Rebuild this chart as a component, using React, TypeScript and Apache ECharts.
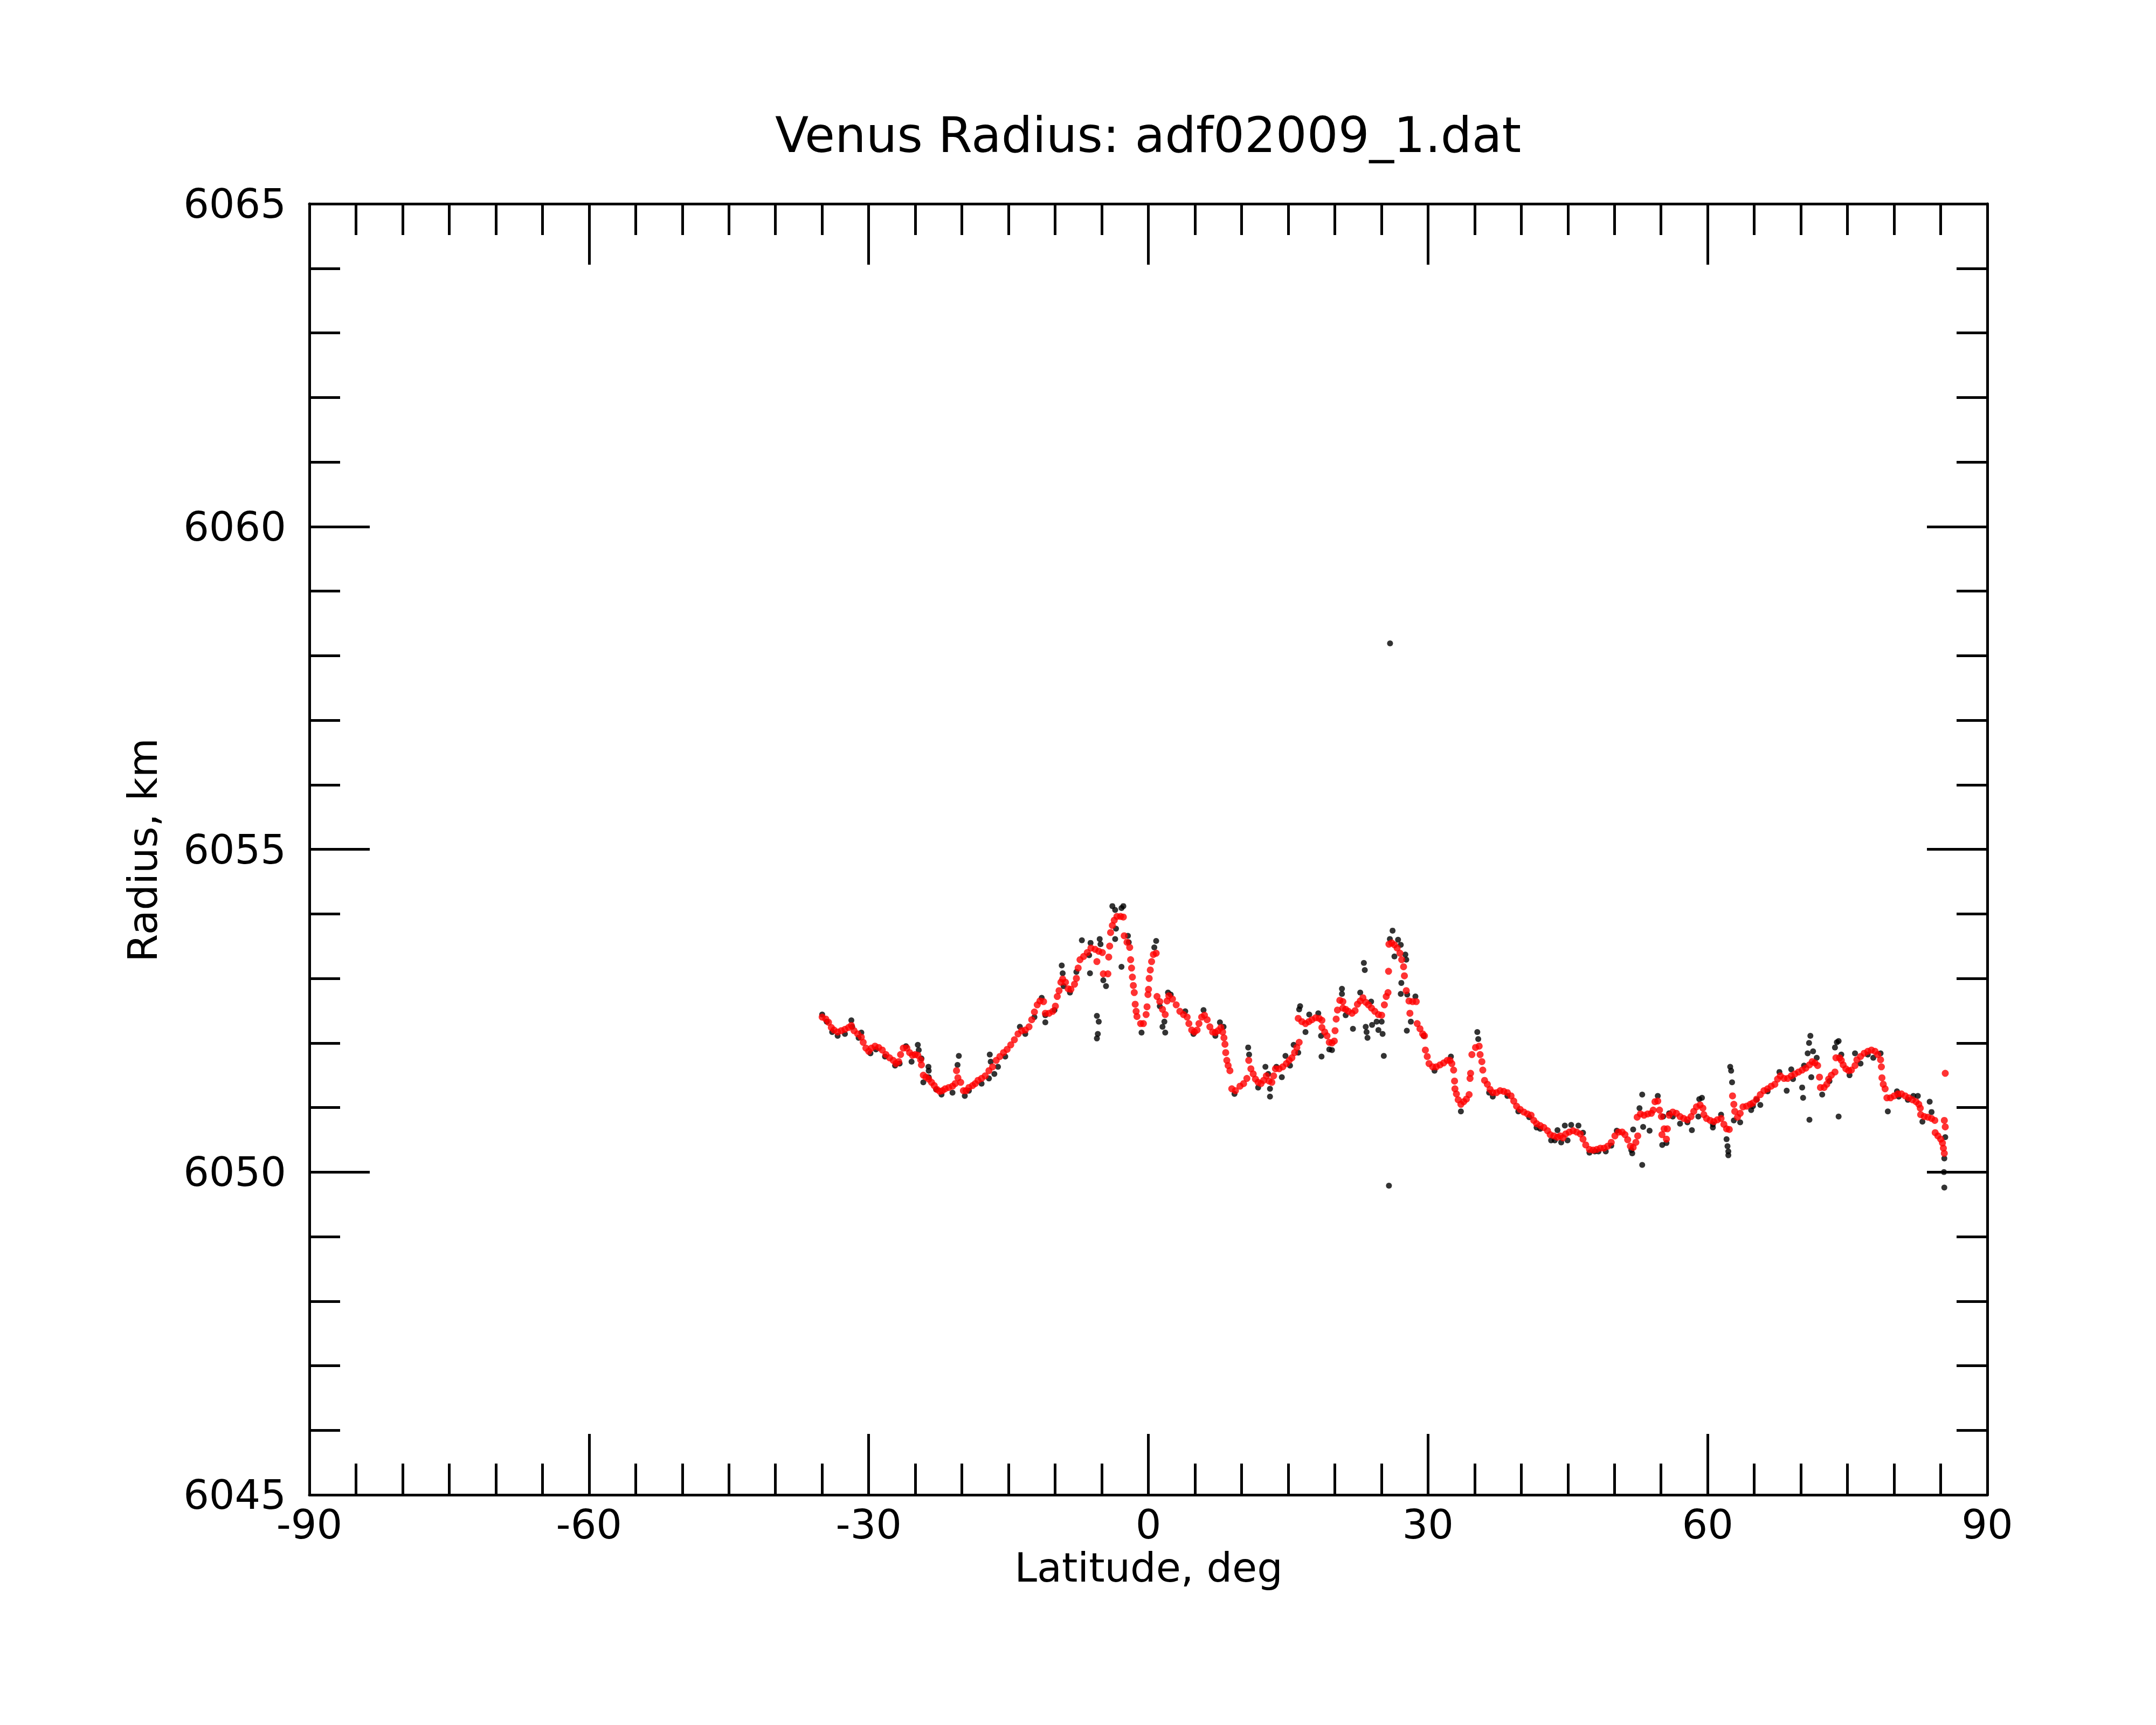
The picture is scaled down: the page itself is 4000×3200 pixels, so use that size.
import React, { useEffect, useRef } from 'react';
import * as echarts from 'echarts';

const FONT = 'DejaVu Sans';
const TITLE = 'Venus Radius: adf02009_1.dat';
const X_NAME = 'Latitude, deg';
const Y_NAME = 'Radius, km';

// Filtered (red) samples: [latitude deg, radius km]
const redSouth: number[][] = [
  [-34.99,6052.40],[-34.60,6052.37],[-34.31,6052.32],[-34.01,6052.24],[-33.72,6052.20],[-33.33,6052.17],[-32.94,6052.19],[-32.55,6052.21],[-32.16,6052.24],[-31.86,6052.27],[-31.57,6052.19],[-31.18,6052.14],[-30.79,6052.09],[-30.59,6052.01],[-30.30,6051.92],[-30.00,6051.87],[-29.71,6051.92],[-29.32,6051.95],[-28.93,6051.93],[-28.54,6051.89],[-28.15,6051.82],[-27.76,6051.77],[-27.37,6051.73],[-27.07,6051.68],[-26.78,6051.71],[-26.58,6051.82],[-26.29,6051.92],[-25.90,6051.92],[-25.61,6051.85],[-25.31,6051.81],[-25.02,6051.82],[-24.73,6051.81],[-24.43,6051.74],[-24.34,6051.66],[-24.14,6051.50],[-23.85,6051.47],[-23.56,6051.44],[-23.26,6051.39],[-22.97,6051.34],[-22.68,6051.28],[-22.38,6051.25],[-22.09,6051.26],[-21.80,6051.29],[-21.41,6051.31],[-21.01,6051.33],[-20.72,6051.37],[-20.58,6051.57],[-20.43,6051.46],[-20.13,6051.39],[-19.84,6051.26],[-19.55,6051.26],[-19.25,6051.31],[-18.86,6051.34],[-18.57,6051.37],[-18.28,6051.42],[-17.89,6051.45],[-17.50,6051.49],[-17.10,6051.57],[-16.71,6051.63],[-16.32,6051.73],[-15.93,6051.79],[-15.54,6051.85],[-15.15,6051.90],[-14.76,6051.97],[-14.37,6052.05],[-13.98,6052.14],[-13.59,6052.19],[-13.20,6052.20],[-12.80,6052.25],[-12.51,6052.36],[-12.22,6052.48],[-11.92,6052.59],[-11.63,6052.65],[-11.24,6052.64],[-11.05,6052.46],[-10.65,6052.46],[-10.26,6052.49],[-9.97,6052.57],[-9.77,6052.72],[-9.58,6052.81],[-9.38,6052.94],[-9.19,6052.99],[-8.89,6052.94],[-8.60,6052.84],[-8.31,6052.83],[-7.92,6052.91],[-7.72,6053.00],[-7.53,6053.16],[-7.33,6053.29],[-6.94,6053.34],[-6.55,6053.40],[-6.16,6053.47]
];
const redEquator: number[][] = [
  [-5.71,6053.45],[-5.52,6053.26],[-5.32,6053.42],[-4.93,6053.40],[-4.83,6053.07],[-4.34,6053.07],[-4.25,6053.33],[-4.15,6053.50],[-4.05,6053.71],[-3.86,6053.82],[-3.66,6053.90],[-3.37,6053.96],[-2.98,6053.96],[-2.68,6053.95],[-2.59,6053.66],[-2.29,6053.56],[-2.00,6053.48],[-1.90,6053.29],[-1.80,6053.16],[-1.71,6053.02],[-1.61,6052.89],[-1.51,6052.78],[-1.41,6052.60],[-1.31,6052.49],[-1.22,6052.41],[-0.83,6052.30],[-0.53,6052.30],[-0.24,6052.44],[-0.14,6052.56],[-0.04,6052.75],[0.02,6052.83],[0.09,6053.00],[0.21,6053.13],[0.35,6053.26],[0.54,6053.37],[0.84,6053.39],[0.93,6052.72],[1.23,6052.64],[1.52,6052.52],[1.81,6052.44],[2.01,6052.65],[2.20,6052.73],[2.59,6052.68],[2.99,6052.59],[3.38,6052.49],[3.77,6052.44],[4.16,6052.40],[4.35,6052.30],[4.65,6052.20],[4.94,6052.17],[5.23,6052.20],[5.43,6052.30],[5.72,6052.40],[6.02,6052.43],[6.31,6052.36],[6.60,6052.25],[6.90,6052.17],[7.19,6052.16],[7.48,6052.19],[7.78,6052.24],[7.97,6052.17],[8.11,6052.08],[8.22,6051.98],[8.30,6051.85],[8.42,6051.73],[8.56,6051.65],[8.75,6051.57],[8.95,6051.29],[9.34,6051.26],[9.83,6051.33],[10.22,6051.37],[10.57,6051.45],[10.77,6051.73],[11.00,6051.60],[11.25,6051.52],[11.49,6051.44],[11.78,6051.39],[12.08,6051.37],[12.37,6051.42],[12.66,6051.49],[12.95,6051.41],[13.25,6051.39],[13.44,6051.49],[13.64,6051.60],[14.03,6051.60],[14.42,6051.63],[14.81,6051.68],[15.11,6051.73],[15.40,6051.77],[15.69,6051.85],[15.93,6051.93],[16.18,6052.01],[16.08,6052.38],[16.47,6052.33],[16.86,6052.30],[17.22,6052.33],[17.55,6052.36],[17.94,6052.39],[18.33,6052.38],[18.62,6052.35],[18.62,6052.24],[18.92,6052.17],[19.17,6052.11],[19.41,6052.01],[19.70,6052.00],[19.95,6052.03],[20.03,6052.19],[20.15,6052.37],[20.29,6052.51],[20.54,6052.66],[20.87,6052.64],[20.87,6052.54],[21.17,6052.52],[21.46,6052.49],[21.85,6052.46],[22.18,6052.50],[22.43,6052.60],[22.73,6052.65],[23.02,6052.70],[23.32,6052.63],[23.61,6052.59],[23.94,6052.54],[24.29,6052.49],[24.68,6052.44]
];
const redNorth: number[][] = [
  [25.03,6052.43],[25.32,6052.59],[25.52,6052.72],[25.71,6052.78],[25.77,6053.11],[25.81,6053.53],[26.11,6053.55],[26.40,6053.52],[26.69,6053.47],[26.99,6053.39],[27.18,6053.29],[27.38,6053.18],[27.47,6053.04],[27.67,6052.81],[27.96,6052.65],[28.35,6052.64],[28.74,6052.64],[28.06,6052.46],[28.84,6052.30],[29.14,6052.22],[29.43,6052.14],[29.62,6052.11],[29.72,6051.89],[29.92,6051.79],[30.11,6051.68],[30.50,6051.63],[30.89,6051.63],[31.29,6051.66],[31.68,6051.69],[32.07,6051.73],[32.36,6051.73],[32.56,6051.68],[32.75,6051.58],[32.85,6051.41],[32.89,6051.29],[33.05,6051.21],[33.24,6051.12],[33.53,6051.05],[33.83,6051.09],[34.12,6051.13],[34.41,6051.20],[34.51,6051.45],[34.57,6051.53],[34.71,6051.82],[35.10,6051.93],[35.49,6051.95],[35.59,6051.82],[35.78,6051.71],[35.88,6051.58],[36.07,6051.42],[36.37,6051.36],[36.66,6051.28],[36.95,6051.23],[37.35,6051.23],[37.74,6051.26],[38.13,6051.25],[38.52,6051.23],[38.91,6051.18],[39.20,6051.10],[39.50,6051.02],[39.89,6050.97],[40.28,6050.93],[40.67,6050.90],[41.06,6050.88],[41.35,6050.80],[41.65,6050.75],[42.04,6050.72],[42.43,6050.69],[42.82,6050.64],[43.11,6050.58],[43.50,6050.56],[43.89,6050.54],[44.19,6050.56],[44.48,6050.53],[44.77,6050.59],[45.16,6050.62],[45.56,6050.64],[45.95,6050.62],[46.34,6050.59],[46.63,6050.51],[46.92,6050.42],[47.32,6050.35],[47.71,6050.34],[48.10,6050.35],[48.49,6050.37],[48.88,6050.37],[49.27,6050.40],[49.66,6050.46],[50.05,6050.56],[50.44,6050.62],[50.83,6050.62],[51.13,6050.58],[51.42,6050.50],[51.71,6050.40],[52.01,6050.38],[52.30,6050.46],[52.50,6050.56],[52.44,6050.85],[52.79,6050.90],[53.18,6050.88],[53.57,6050.90],[53.96,6050.91],[54.16,6050.96],[54.35,6051.09],[54.65,6051.10],[54.84,6050.96],[55.04,6050.86],[55.10,6050.58],[55.33,6050.67]
];
const redPolar: number[][] = [
  [55.58,6050.51],[55.68,6050.67],[55.87,6050.88],[56.26,6050.93],[56.65,6050.91],[57.04,6050.86],[57.43,6050.83],[57.83,6050.81],[58.22,6050.86],[58.51,6050.94],[58.80,6051.01],[59.19,6051.04],[59.49,6050.99],[59.59,6050.89],[59.88,6050.83],[60.27,6050.80],[60.66,6050.78],[61.05,6050.81],[61.44,6050.83],[61.74,6050.74],[62.03,6050.67],[62.32,6050.66],[62.67,6051.18],[62.81,6051.05],[62.91,6050.94],[63.20,6050.85],[63.49,6050.91],[63.79,6051.01],[64.18,6051.02],[64.57,6051.05],[64.86,6051.07],[65.25,6051.13],[65.65,6051.20],[66.04,6051.26],[66.43,6051.29],[66.82,6051.33],[67.21,6051.36],[67.50,6051.44],[67.80,6051.49],[68.19,6051.45],[68.58,6051.45],[68.97,6051.49],[69.36,6051.52],[69.75,6051.55],[70.14,6051.58],[70.53,6051.61],[70.92,6051.66],[71.22,6051.71],[71.51,6051.69],[71.80,6051.65],[72.00,6051.47],[72.10,6051.31],[72.49,6051.31],[72.78,6051.36],[72.98,6051.44],[73.27,6051.50],[73.66,6051.55],[73.76,6051.77],[74.15,6051.77],[74.34,6051.73],[74.54,6051.66],[74.83,6051.60],[75.13,6051.57],[75.42,6051.58],[75.81,6051.65],[76.01,6051.74],[76.40,6051.79],[76.79,6051.84],[77.18,6051.87],[77.57,6051.89],[77.96,6051.87],[78.25,6051.82],[78.55,6051.74],[78.64,6051.63],[78.70,6051.46],[78.84,6051.36],[79.04,6051.29],[79.23,6051.15],[79.62,6051.15],[80.01,6051.18],[80.40,6051.21],[80.79,6051.21],[81.19,6051.18],[81.58,6051.15],[81.97,6051.12],[82.36,6051.09],[82.65,6051.05],[82.81,6050.99],[82.85,6050.89],[83.24,6050.86],[83.63,6050.85],[84.02,6050.83],[84.37,6050.80],[84.41,6050.61],[84.70,6050.56],[85.00,6050.51],[85.19,6050.45],[85.29,6050.37],[85.39,6050.29],[85.49,6050.70],[85.39,6050.80],[85.49,6051.53]
];

// Raw (black) samples: [latitude deg, radius km]
const blackSouth: number[][] = [
  [-34.99,6052.44],[-34.50,6052.33],[-33.92,6052.17],[-33.33,6052.11],[-32.55,6052.14],[-31.86,6052.35],[-31.77,6052.25],[-30.79,6052.16],[-31.08,6052.08],[-29.81,6051.84],[-29.22,6051.90],[-28.25,6051.79],[-27.17,6051.65],[-26.68,6051.68],[-26.00,6051.95],[-25.40,6051.71],[-24.73,6051.97],[-24.63,6051.89],[-24.34,6051.76],[-23.59,6051.63],[-23.56,6051.57],[-24.14,6051.39],[-23.56,6051.47],[-22.77,6051.28],[-22.19,6051.20],[-21.01,6051.23],[-20.33,6051.80],[-20.47,6051.66],[-19.69,6051.18],[-19.25,6051.26],[-17.89,6051.37],[-17.01,6051.82],[-16.91,6051.71],[-17.10,6051.45],[-16.52,6051.52],[-16.13,6051.63],[-15.35,6051.79],[-13.78,6052.25],[-13.20,6052.14],[-12.22,6052.40],[-11.44,6052.70],[-11.05,6052.32],[-11.05,6052.43],[-10.07,6052.51],[-9.29,6053.20],[-9.19,6053.08],[-9.09,6052.88],[-8.41,6052.78],[-7.72,6053.10],[-7.13,6053.59],[-6.20,6053.55],[-6.26,6053.08],[-6.35,6053.36]
];
const blackEquator: number[][] = [
  [-5.52,6052.42],[-5.32,6052.33],[-5.42,6052.14],[-5.52,6052.07],[-5.22,6053.61],[-5.13,6053.53],[-4.83,6052.97],[-4.54,6052.88],[-3.86,6054.12],[-3.56,6054.06],[-2.88,6054.09],[-2.68,6054.12],[-3.47,6053.77],[-3.56,6053.61],[-2.88,6053.18],[-2.19,6053.66],[-2.10,6053.56],[-0.73,6052.16],[0.84,6053.58],[0.64,6053.48],[1.23,6052.57],[1.72,6052.33],[1.52,6052.25],[1.81,6052.16],[2.11,6052.78],[2.40,6052.75],[3.96,6052.49],[4.84,6052.14],[5.92,6052.51],[7.19,6052.11],[7.68,6052.32],[8.07,6052.25],[9.24,6051.21],[10.71,6051.93],[10.81,6051.82],[11.78,6051.31],[12.56,6051.63],[12.86,6051.52],[13.05,6051.29],[13.05,6051.17],[13.74,6051.63],[14.32,6051.47],[14.71,6051.80],[15.20,6051.65],[15.59,6051.97],[16.08,6051.85],[16.28,6052.57],[16.18,6052.52],[16.86,6052.17],[17.26,6052.44],[18.23,6052.46],[18.53,6052.11],[18.58,6051.79],[19.41,6051.90],[19.70,6051.89],[20.77,6052.84],[20.77,6052.76],[21.17,6052.43],[21.95,6052.22],[22.73,6052.78],[23.12,6053.24],[23.22,6053.13],[23.32,6052.25],[23.41,6052.17],[23.51,6052.08],[23.90,6052.64],[24.00,6052.28],[24.49,6052.33],[24.68,6052.20]
];
const blackNorth: number[][] = [
  [25.03,6052.33],[25.13,6052.14],[25.26,6051.80],[25.81,6049.79],[25.93,6058.19],[26.20,6053.74],[25.91,6053.61],[26.79,6053.60],[27.08,6053.52],[26.40,6053.34],[27.57,6053.37],[27.67,6053.29],[27.14,6052.93],[27.08,6052.76],[27.77,6052.75],[28.65,6052.72],[28.16,6052.33],[27.73,6052.19],[29.53,6052.11],[33.53,6050.94],[35.29,6052.17],[35.39,6052.06],[32.46,6051.79],[30.70,6051.57],[36.95,6051.17],[36.56,6051.23],[38.52,6051.18],[39.69,6050.94],[40.86,6050.85],[41.65,6050.69],[42.04,6050.67],[43.21,6050.49],[43.60,6050.49],[43.89,6050.65],[44.29,6050.46],[44.68,6050.72],[44.97,6050.49],[45.36,6050.73],[46.14,6050.72],[46.63,6050.61],[47.32,6050.30],[47.90,6050.32],[48.29,6050.32],[49.07,6050.32],[49.66,6050.41],[50.25,6050.64],[51.81,6050.34],[51.91,6050.29],[52.01,6050.66],[52.98,6050.11],[52.98,6051.20],[53.08,6050.70],[53.77,6050.64],[52.69,6050.99],[54.65,6051.18],[55.13,6050.42],[55.23,6050.86]
];
const blackPolar: number[][] = [
  [55.58,6050.45],[55.87,6050.91],[56.26,6050.86],[57.04,6050.75],[57.83,6050.77],[58.31,6050.65],[59.00,6050.86],[59.10,6051.13],[59.39,6051.15],[60.56,6050.69],[60.56,6050.74],[61.44,6050.89],[62.03,6050.51],[62.13,6050.40],[62.22,6050.32],[62.22,6050.26],[62.42,6051.63],[62.52,6051.57],[62.62,6051.39],[62.81,6050.80],[63.49,6050.77],[64.67,6050.96],[64.86,6051.02],[65.25,6051.12],[65.65,6051.04],[66.43,6051.25],[67.70,6051.55],[68.48,6051.26],[68.97,6051.59],[69.16,6051.44],[70.14,6051.31],[70.24,6051.15],[70.34,6051.65],[70.73,6051.84],[71.02,6052.11],[70.88,6052.00],[71.31,6051.87],[71.12,6051.47],[70.92,6050.81],[71.70,6051.77],[72.29,6051.20],[73.07,6051.41],[73.86,6052.01],[74.05,6052.03],[73.66,6051.93],[74.05,6050.86],[74.34,6051.82],[75.22,6051.50],[75.81,6051.84],[76.40,6051.68],[77.18,6051.82],[77.77,6051.77],[78.55,6051.84],[79.33,6050.94],[80.31,6051.25],[80.50,6051.17],[81.48,6051.12],[82.07,6051.18],[82.55,6051.18],[83.04,6050.78],[83.82,6051.09],[84.02,6050.93],[85.49,6050.54],[85.39,6050.21],[85.35,6050.00],[85.39,6049.76]
];

const X_MIN = -90, X_MAX = 90, X_STEP = 30;
const Y_MIN = 6045, Y_MAX = 6065, Y_STEP = 5;

export default function App() {
  const ref = useRef<HTMLDivElement>(null);
  useEffect(() => {
    if (!ref.current) return;
    const chart = echarts.init(ref.current, null, { renderer: 'svg' });
    const line = { color: '#000', width: 5 };
    const xBase = {
      type: 'value', min: X_MIN, max: X_MAX, interval: X_STEP,
      axisLine: { show: true, onZero: false, lineStyle: line },
      axisTick: { show: true, inside: true, length: 113, lineStyle: line },
      minorTick: { show: true, splitNumber: 6, length: 58, lineStyle: line },
      splitLine: { show: false }, minorSplitLine: { show: false },
    };
    const yBase = {
      type: 'value', min: Y_MIN, max: Y_MAX, interval: Y_STEP,
      axisLine: { show: true, onZero: false, lineStyle: line },
      axisTick: { show: true, inside: true, length: 112, lineStyle: line },
      minorTick: { show: true, splitNumber: 5, length: 57, lineStyle: line },
      splitLine: { show: false }, minorSplitLine: { show: false },
    };
    const labelStyle = { color: '#000', fontSize: 75, fontFamily: FONT, lineHeight: 76 };
    const black = [...blackSouth, ...blackEquator, ...blackNorth, ...blackPolar];
    const red = [...redSouth, ...redEquator, ...redNorth, ...redPolar];
    chart.setOption({
      animation: false,
      backgroundColor: '#ffffff',
      grid: { left: 574, top: 378, width: 3113, height: 2395, containLabel: false },
      xAxis: [
        { ...xBase, position: 'bottom', axisLabel: { ...labelStyle, margin: 17, showMinLabel: true, showMaxLabel: true, formatter: (v: number) => String(v) } },
        { ...xBase, position: 'top', axisLabel: { show: false } },
      ],
      yAxis: [
        { ...yBase, position: 'left', axisLabel: { ...labelStyle, margin: 43, showMinLabel: true, showMaxLabel: true, formatter: (v: number) => String(v) } },
        { ...yBase, position: 'right', axisLabel: { show: false } },
      ],
      series: [
        { type: 'scatter', name: 'raw', xAxisIndex: 0, yAxisIndex: 0, data: black, symbol: 'circle', symbolSize: 11, itemStyle: { color: '#000000' }, silent: true },
        { type: 'scatter', name: 'filtered', xAxisIndex: 0, yAxisIndex: 0, data: red, symbol: 'circle', symbolSize: 13, itemStyle: { color: '#ff0000' }, silent: true },
      ],
      graphic: [
        { type: 'text', x: 2130, y: 250, style: { text: TITLE, fontSize: 91, fontFamily: FONT, fill: '#000', align: 'center', verticalAlign: 'middle' } },
        { type: 'text', x: 2131, y: 2908, style: { text: X_NAME, fontSize: 75, fontFamily: FONT, fill: '#000', align: 'center', verticalAlign: 'middle' } },
        { type: 'text', x: 265, y: 1577, rotation: Math.PI / 2, style: { text: Y_NAME, fontSize: 75, fontFamily: FONT, fill: '#000', align: 'center', verticalAlign: 'middle' } },
      ],
    });
    return () => chart.dispose();
  }, []);
  return <div ref={ref} style={{ position: 'absolute', left: 0, top: 0, width: 4000, height: 3200, background: '#fff' }} />;
}
